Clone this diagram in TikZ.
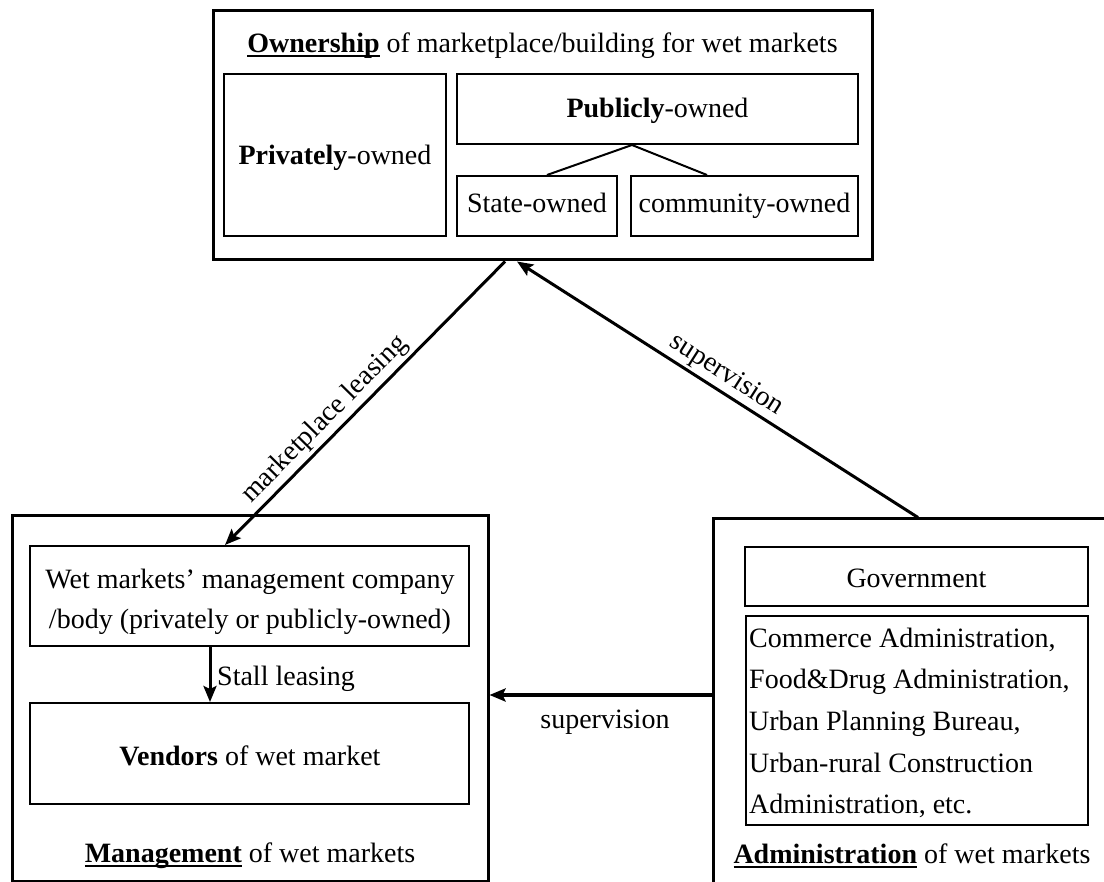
\documentclass[tikz,border=0pt]{standalone}
\usepackage{fontspec}
\setmainfont{Liberation Serif}
\usetikzlibrary{arrows.meta,calc}
\newsavebox\ulbox
\newcommand\myul[1]{\sbox\ulbox{#1}\rlap{\rule[-4.5pt]{\wd\ulbox}{2pt}}\usebox\ulbox}
\begin{document}
\begin{tikzpicture}[x=1pt, y=-1pt,
  font=\fontsize{28}{34}\selectfont,
  box/.style={draw, line width=2pt, inner sep=0pt},
  obox/.style={draw, line width=3pt, inner sep=0pt},
  txt/.style={anchor=base, inner sep=0pt},
  arr/.style={line width=3pt, -{Stealth[length=16pt,width=13pt,inset=3pt]}},
  link/.style={line width=2pt}]
\fill[white] (0,0) rectangle (1104,882);
\useasboundingbox (0,0) rectangle (1104,882);
\clip (0,0) rectangle (1104,882);

% boxes
\node[obox, minimum width=659pt, minimum height=249pt] (own) at (542.5,135.5) {};
\node[box, minimum width=222pt, minimum height=162pt] (priv) at (335,155) {};
\node[box, minimum width=401pt, minimum height=70pt] (pub) at (657.5,109) {};
\node[box, minimum width=160pt, minimum height=60pt] (state) at (537,206) {};
\node[box, minimum width=227pt, minimum height=60pt] (comm) at (744.5,206) {};
\node[obox, minimum width=476pt, minimum height=365pt] (mgmt) at (250,698.5) {};
\node[box, minimum width=439pt, minimum height=100pt] (comp) at (249.5,596) {};
\node[box, minimum width=439pt, minimum height=101pt] (vend) at (249.5,753.5) {};
\node[obox, minimum width=402pt, minimum height=376pt] (adm) at (914,707) {};
\node[box, minimum width=343pt, minimum height=59pt] (gov) at (916.5,576.5) {};
\node[box, minimum width=342pt, minimum height=209pt] (list) at (917,720.5) {};

% texts
\node[txt] (tOwn) at (542.5,53) {\myul{\textbf{Ownership}} of marketplace/building for wet markets};
\node[txt] (tPriv) at (335,165) {\textbf{Privately}-owned};
\node[txt] (tPub) at (657.5,118) {\textbf{Publicly}-owned};
\node[txt] (tState) at (537,213) {State-owned};
\node[txt] (tComm) at (744.5,213) {community-owned};
\node[txt] (tComp1) at (250,588) {Wet markets' management company};
\node[txt] (tComp2) at (250,628) {/body (privately or publicly-owned)};
\node[txt] (tVend) at (250,765) {\textbf{Vendors} of wet market};
\node[txt] (tMgmt) at (250,862) {\myul{\textbf{Management}} of wet markets};
\node[txt] (tGov) at (916.5,587) {Government};
\node[txt, anchor=base west] (l1) at (749,647) {Commerce Administration,};
\node[txt, anchor=base west] (l2) at (749,688) {Food\&Drug Administration,};
\node[txt, anchor=base west] (l3) at (749,730) {Urban Planning Bureau,};
\node[txt, anchor=base west] (l4) at (749,772) {Urban-rural Construction};
\node[txt, anchor=base west] (l5) at (749,813) {Administration, etc.};
\node[txt] (tAdm) at (912,863) {\myul{\textbf{Administration}} of wet markets};

% tree links
\draw[link] ($(state.north)+(10,0)$) -- ($(pub.south)+(-25.5,0)$) -- ($(comm.north)+(-37.5,0)$);

% connectors
\draw[arr] ($(own.south)+(-37.5,0)$) -- node[sloped, above, pos=0.6, inner sep=3pt] (lLease) {marketplace leasing} ($(comp.north)+(-24.5,0)$);
\draw[arr] ($(adm.north)+(4,0)$) -- node[sloped, above, pos=0.5, inner sep=3pt] (lSup) {supervision} ($(own.south)+(-25.5,0)$);
\draw[arr, line width=4pt] ($(adm.west)+(0,-12)$) -- node[pos=0.48, below=13pt, inner sep=0pt] (lSup2) {supervision} ($(mgmt.east)+(0,-3.5)$);
\draw[arr] ($(comp.south)+(-39.5,0)$) -- ($(vend.north)+(-39.5,0)$);
\node[txt, anchor=base west] (lStall) at (217,685) {Stall leasing};
\end{tikzpicture}
\end{document}
